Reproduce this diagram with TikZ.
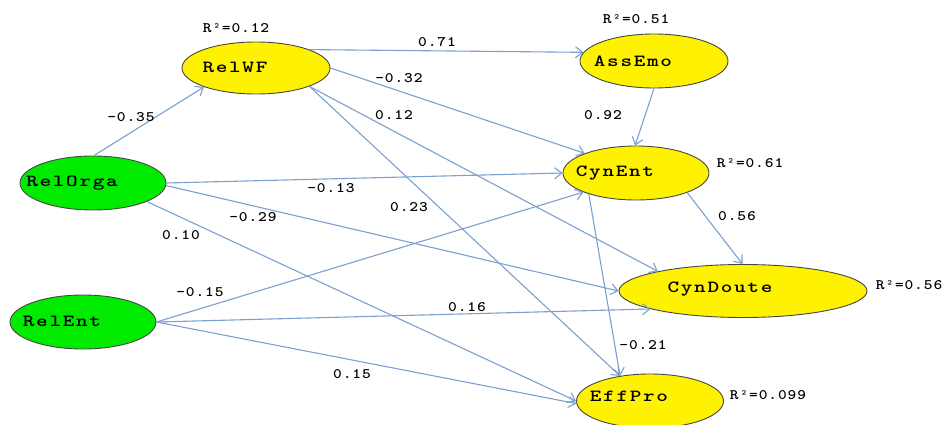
\documentclass[tikz,border=0pt]{standalone}
\usepackage{fontspec}
\usetikzlibrary{shapes.geometric,arrows.meta}
\newfontfamily\latfont[FakeStretch=1.3,LetterSpace=10]{lmmonolt10-bold.otf}
\newfontfamily\coeffont[FakeStretch=1.15,LetterSpace=6]{lmmonolt10-bold.otf}
\definecolor{latgreen}{RGB}{0,235,0}
\definecolor{edgeblue}{RGB}{124,160,208}
\definecolor{ellgray}{RGB}{70,70,70}
% text of a latent variable, moved by (#2/2, #1) from the centre
\newcommand{\ltext}[3][0pt]{\makebox[0pt]{\hspace*{#2}\raisebox{#1}{#3}}}
\tikzset{
  lat/.style={draw=ellgray, line width=0.9pt, ellipse, inner sep=0pt,
    minimum height=54pt, font=\latfont\fontsize{17}{17}\selectfont},
  exo/.style={lat, fill=latgreen},
  endo/.style={lat, fill=yellow},
  coef/.style={inner sep=0pt, font=\coeffont\fontsize{14.5}{14.5}\selectfont},
  rel/.style={draw=edgeblue, line width=1.1pt,
    -{Straight Barb[length=7pt,width=11pt]}}
}
\begin{document}
\begin{tikzpicture}[x=1pt,y=-1pt]
\path[use as bounding box, fill=white] (0,0) rectangle (945,425);

\node[exo, minimum width=146pt] (relorga) at (93,183) {\ltext{-42pt}{RelOrga}};
\node[exo, minimum width=146pt] (relent) at (83,322) {\ltext[1pt]{-42pt}{RelEnt}};
\node[endo, minimum width=148pt, minimum height=52pt] (relwf) at (256,68) {\ltext[1pt]{-42pt}{RelWF}};
\node[endo, minimum width=148pt] (assemo) at (654,61) {\ltext[-2pt]{-42pt}{AssEmo}};
\node[endo, minimum width=146pt] (cynent) at (636,173) {\ltext{-42pt}{CynEnt}};
\node[endo, minimum width=248pt, minimum height=53pt] (cyndoute) at (743,291) {\ltext[8pt]{-46pt}{CynDoute}};
\node[endo, minimum width=147pt] (effpro) at (650,401) {\ltext[9pt]{-42pt}{EffPro}};

\node[coef] (r2relwf) at (236,28) {R²=0.12};
\node[coef] (r2assemo) at (636,19) {R²=0.51};
\node[coef] (r2cynent) at (750,163) {R²=0.61};
\node[coef] (r2cyndoute) at (909,285) {R²=0.56};
\node[coef] (r2effpro) at (768,395) {R²=0.099};

\path[rel] (relorga.88) -- (relwf.200);
\path[rel] (relwf.19) -- (assemo.173);
\path[rel] (relwf.0) -- (cynent.159);
\path[rel] (relwf.-19) -- (cyndoute.167);
\path[rel] (relwf.-19) -- (effpro.140);
\path[rel] (assemo.-90) -- (cynent.92);
\path[rel] (relorga.0) -- (cynent.180);
\path[rel] (relorga.-2) -- (cyndoute.180);
\path[rel] (relorga.-19) -- (effpro.180);
\path[rel] (relent.0) -- (cynent.200);
\path[rel] (relent.0) -- (cyndoute.191);
\path[rel] (relent.0) -- (effpro.182);
\path[rel] (cynent.-21) -- (cyndoute.91);
\path[rel] (cynent.204) -- (effpro.140);

\node[coef] (c1) at (131,117) {-0.35};
\node[coef] (c2) at (437,42) {0.71};
\node[coef] (c3) at (399,78) {-0.32};
\node[coef] (c4) at (394,115) {0.12};
\node[coef] (c5) at (409,207) {0.23};
\node[coef] (c6) at (603,115) {0.92};
\node[coef] (c7) at (331,188) {-0.13};
\node[coef] (c8) at (253,217) {-0.29};
\node[coef] (c9) at (181,235) {0.10};
\node[coef] (c10) at (200,292) {-0.15};
\node[coef] (c11) at (467,307) {0.16};
\node[coef] (c12) at (352,374) {0.15};
\node[coef] (c13) at (737,216) {0.56};
\node[coef] (c14) at (643,345) {-0.21};
\end{tikzpicture}
\end{document}
